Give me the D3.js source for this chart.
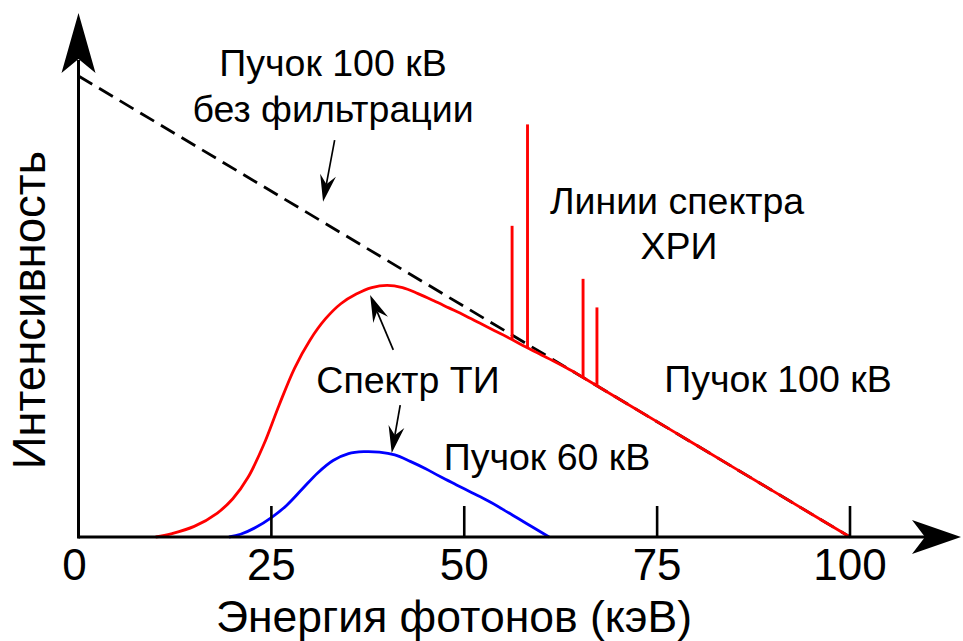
<!DOCTYPE html>
<html>
<head>
<meta charset="utf-8">
<script src="https://cdn.jsdelivr.net/npm/d3@7"></script>
<style>
  html, body { margin: 0; padding: 0; background: #fff; }
  svg { display: block; font-family: "Liberation Sans", Arial, sans-serif; }
</style>
</head>
<body>
<svg id="chart" width="963" height="641"></svg>
<script>
// Photon energy (keV) and intensity (arb. units)
const xTicks = [25, 50, 75, 100];
const xTickLabels = ["0", "25", "50", "75", "100"];
const xLabelValues = [0, 25, 50, 75, 100];

// Unfiltered 100 kV beam (Kramers line)
const unfilteredE = [0, 100];
const unfilteredI = [100, 0];

// Filtered 100 kV bremsstrahlung spectrum
const beam100E = [10, 12, 15, 18, 20, 22, 24, 26, 28, 30, 32, 34, 36, 38, 40, 42, 44, 46, 48, 50, 52, 54, 56, 58, 60, 62, 64, 66, 70, 80, 90, 100];
const beam100I = [0, 0.7, 2.3, 5.2, 8.3, 13.0, 20.0, 28.6, 36.6, 42.7, 47.3, 50.6, 52.7, 54.1, 54.6, 54.1, 52.8, 51.3, 49.7, 48.1, 46.4, 44.7, 43.0, 41.2, 39.5, 37.8, 36.0, 34.0, 30.0, 20.0, 10.0, 0];

// Filtered 60 kV spectrum
const beam60E = [19.5, 21, 23, 25, 27, 29, 31, 33, 35, 37, 39, 41, 43, 45, 47, 49, 51, 53, 55, 57, 59, 61];
const beam60I = [0, 0.6, 2.1, 4.2, 6.9, 10.4, 13.9, 16.6, 18.1, 18.5, 18.4, 17.8, 16.4, 14.8, 13.0, 11.3, 9.6, 7.9, 6.0, 4.0, 2.0, 0];

// Characteristic lines
const lineE = [56.2, 58.2, 65.4, 67.2];
const lineBase = [42.9, 41.1, 34.6, 32.8];
const lineTop = [67.5, 89.5, 56.0, 49.8];

const svg = d3.select("#chart");

const x = d3.scaleLinear().domain([0, 100]).range([78.5, 850]);
const y = d3.scaleLinear().domain([0, 100]).range([537, 76]);

const RED = "#ff0000", BLUE = "#0000ff";
const line = d3.line().x(d => x(d[0])).y(d => y(d[1]));
const smooth = d3.line().x(d => x(d[0])).y(d => y(d[1])).curve(d3.curveCatmullRom.alpha(0.5));

// Unfiltered beam, dashed
svg.append("path")
  .attr("d", line(d3.zip(unfilteredE, unfilteredI)))
  .attr("fill", "none").attr("stroke", "#000")
  .attr("stroke-width", 2.8).attr("stroke-dasharray", "16,8");

// 60 kV beam
svg.append("path")
  .attr("d", smooth(d3.zip(beam60E, beam60I)))
  .attr("fill", "none").attr("stroke", BLUE).attr("stroke-width", 2.8);

// 100 kV beam
svg.append("path")
  .attr("d", smooth(d3.zip(beam100E, beam100I)))
  .attr("fill", "none").attr("stroke", RED).attr("stroke-width", 2.8);

// Characteristic lines
svg.append("g").selectAll("line")
  .data(d3.range(lineE.length))
  .join("line")
  .attr("x1", i => x(lineE[i])).attr("x2", i => x(lineE[i]))
  .attr("y1", i => y(lineBase[i])).attr("y2", i => y(lineTop[i]))
  .attr("stroke", RED).attr("stroke-width", 2.9);

// Axes
const x0 = x(0), y0 = y(0);
svg.append("line").attr("x1", x0).attr("y1", y0).attr("x2", 930).attr("y2", y0)
  .attr("stroke", "#000").attr("stroke-width", 3);
svg.append("line").attr("x1", x0).attr("y1", y0 + 1.5).attr("x2", x0).attr("y2", 60)
  .attr("stroke", "#000").attr("stroke-width", 3);
// Arrow heads of the axes
svg.append("path")
  .attr("d", `M961,${y0} L912,${y0 - 17} L925,${y0} L912,${y0 + 17} Z`)
  .attr("fill", "#000");
svg.append("path")
  .attr("d", `M${x0},13 L${x0 + 17},73 L${x0},59 L${x0 - 17},73 Z`)
  .attr("fill", "#000");

// Tick marks
svg.append("g").selectAll("line")
  .data(xTicks)
  .join("line")
  .attr("x1", d => x(d)).attr("x2", d => x(d))
  .attr("y1", y0).attr("y2", y0 - 31)
  .attr("stroke", "#000").attr("stroke-width", 2.6);

// Tick labels
svg.append("g").selectAll("text")
  .data(xLabelValues)
  .join("text")
  .attr("x", (d, i) => x(d) + (i === 0 ? -4 : 0))
  .attr("y", 580)
  .attr("text-anchor", "middle")
  .attr("font-size", 44)
  .text((d, i) => xTickLabels[i]);

// Axis titles
svg.append("text")
  .attr("x", 454).attr("y", 632)
  .attr("text-anchor", "middle").attr("font-size", 44.5)
  .text("Энергия фотонов (кэВ)");
svg.append("text")
  .attr("transform", "translate(45,310) rotate(-90)")
  .attr("text-anchor", "middle").attr("font-size", 45.5)
  .text("Интенсивность");

// Annotations
const labels = [
  { t: "Пучок 100 кВ", x: 333, y: 76 },
  { t: "без фильтрации", x: 333, y: 122 },
  { t: "Линии спектра", x: 677, y: 214 },
  { t: "ХРИ", x: 679, y: 259 },
  { t: "Спектр ТИ", x: 408, y: 393 },
  { t: "Пучок 60 кВ", x: 547, y: 470 },
  { t: "Пучок 100 кВ", x: 778, y: 392 }
];
svg.append("g").selectAll("text")
  .data(labels)
  .join("text")
  .attr("x", d => d.x).attr("y", d => d.y)
  .attr("text-anchor", "middle").attr("font-size", 37.5)
  .text(d => d.t);

// Pointer arrows (energy/intensity coordinates: start -> tip)
const pointers = [
  [33.2, 86.1, 31.7, 72.7],
  [40.8, 40.6, 37.8, 52.5],
  [41.7, 28.6, 40.6, 18.2]
];
pointers.forEach(([e1, i1, e2, i2]) => {
  const ax = x(e1), ay = y(i1), bx = x(e2), by = y(i2);
  const ang = Math.atan2(by - ay, bx - ax);
  const L = 27, W = 8, N = 18;
  const ux = Math.cos(ang), uy = Math.sin(ang), px = -uy, py = ux;
  svg.append("line")
    .attr("x1", ax).attr("y1", ay)
    .attr("x2", bx - ux * N).attr("y2", by - uy * N)
    .attr("stroke", "#000").attr("stroke-width", 1.7);
  const p = [
    [bx, by],
    [bx - ux * L + px * W, by - uy * L + py * W],
    [bx - ux * N, by - uy * N],
    [bx - ux * L - px * W, by - uy * L - py * W]
  ];
  svg.append("path").attr("d", "M" + p.map(q => q.join(",")).join("L") + "Z").attr("fill", "#000");
});
</script>
</body>
</html>
